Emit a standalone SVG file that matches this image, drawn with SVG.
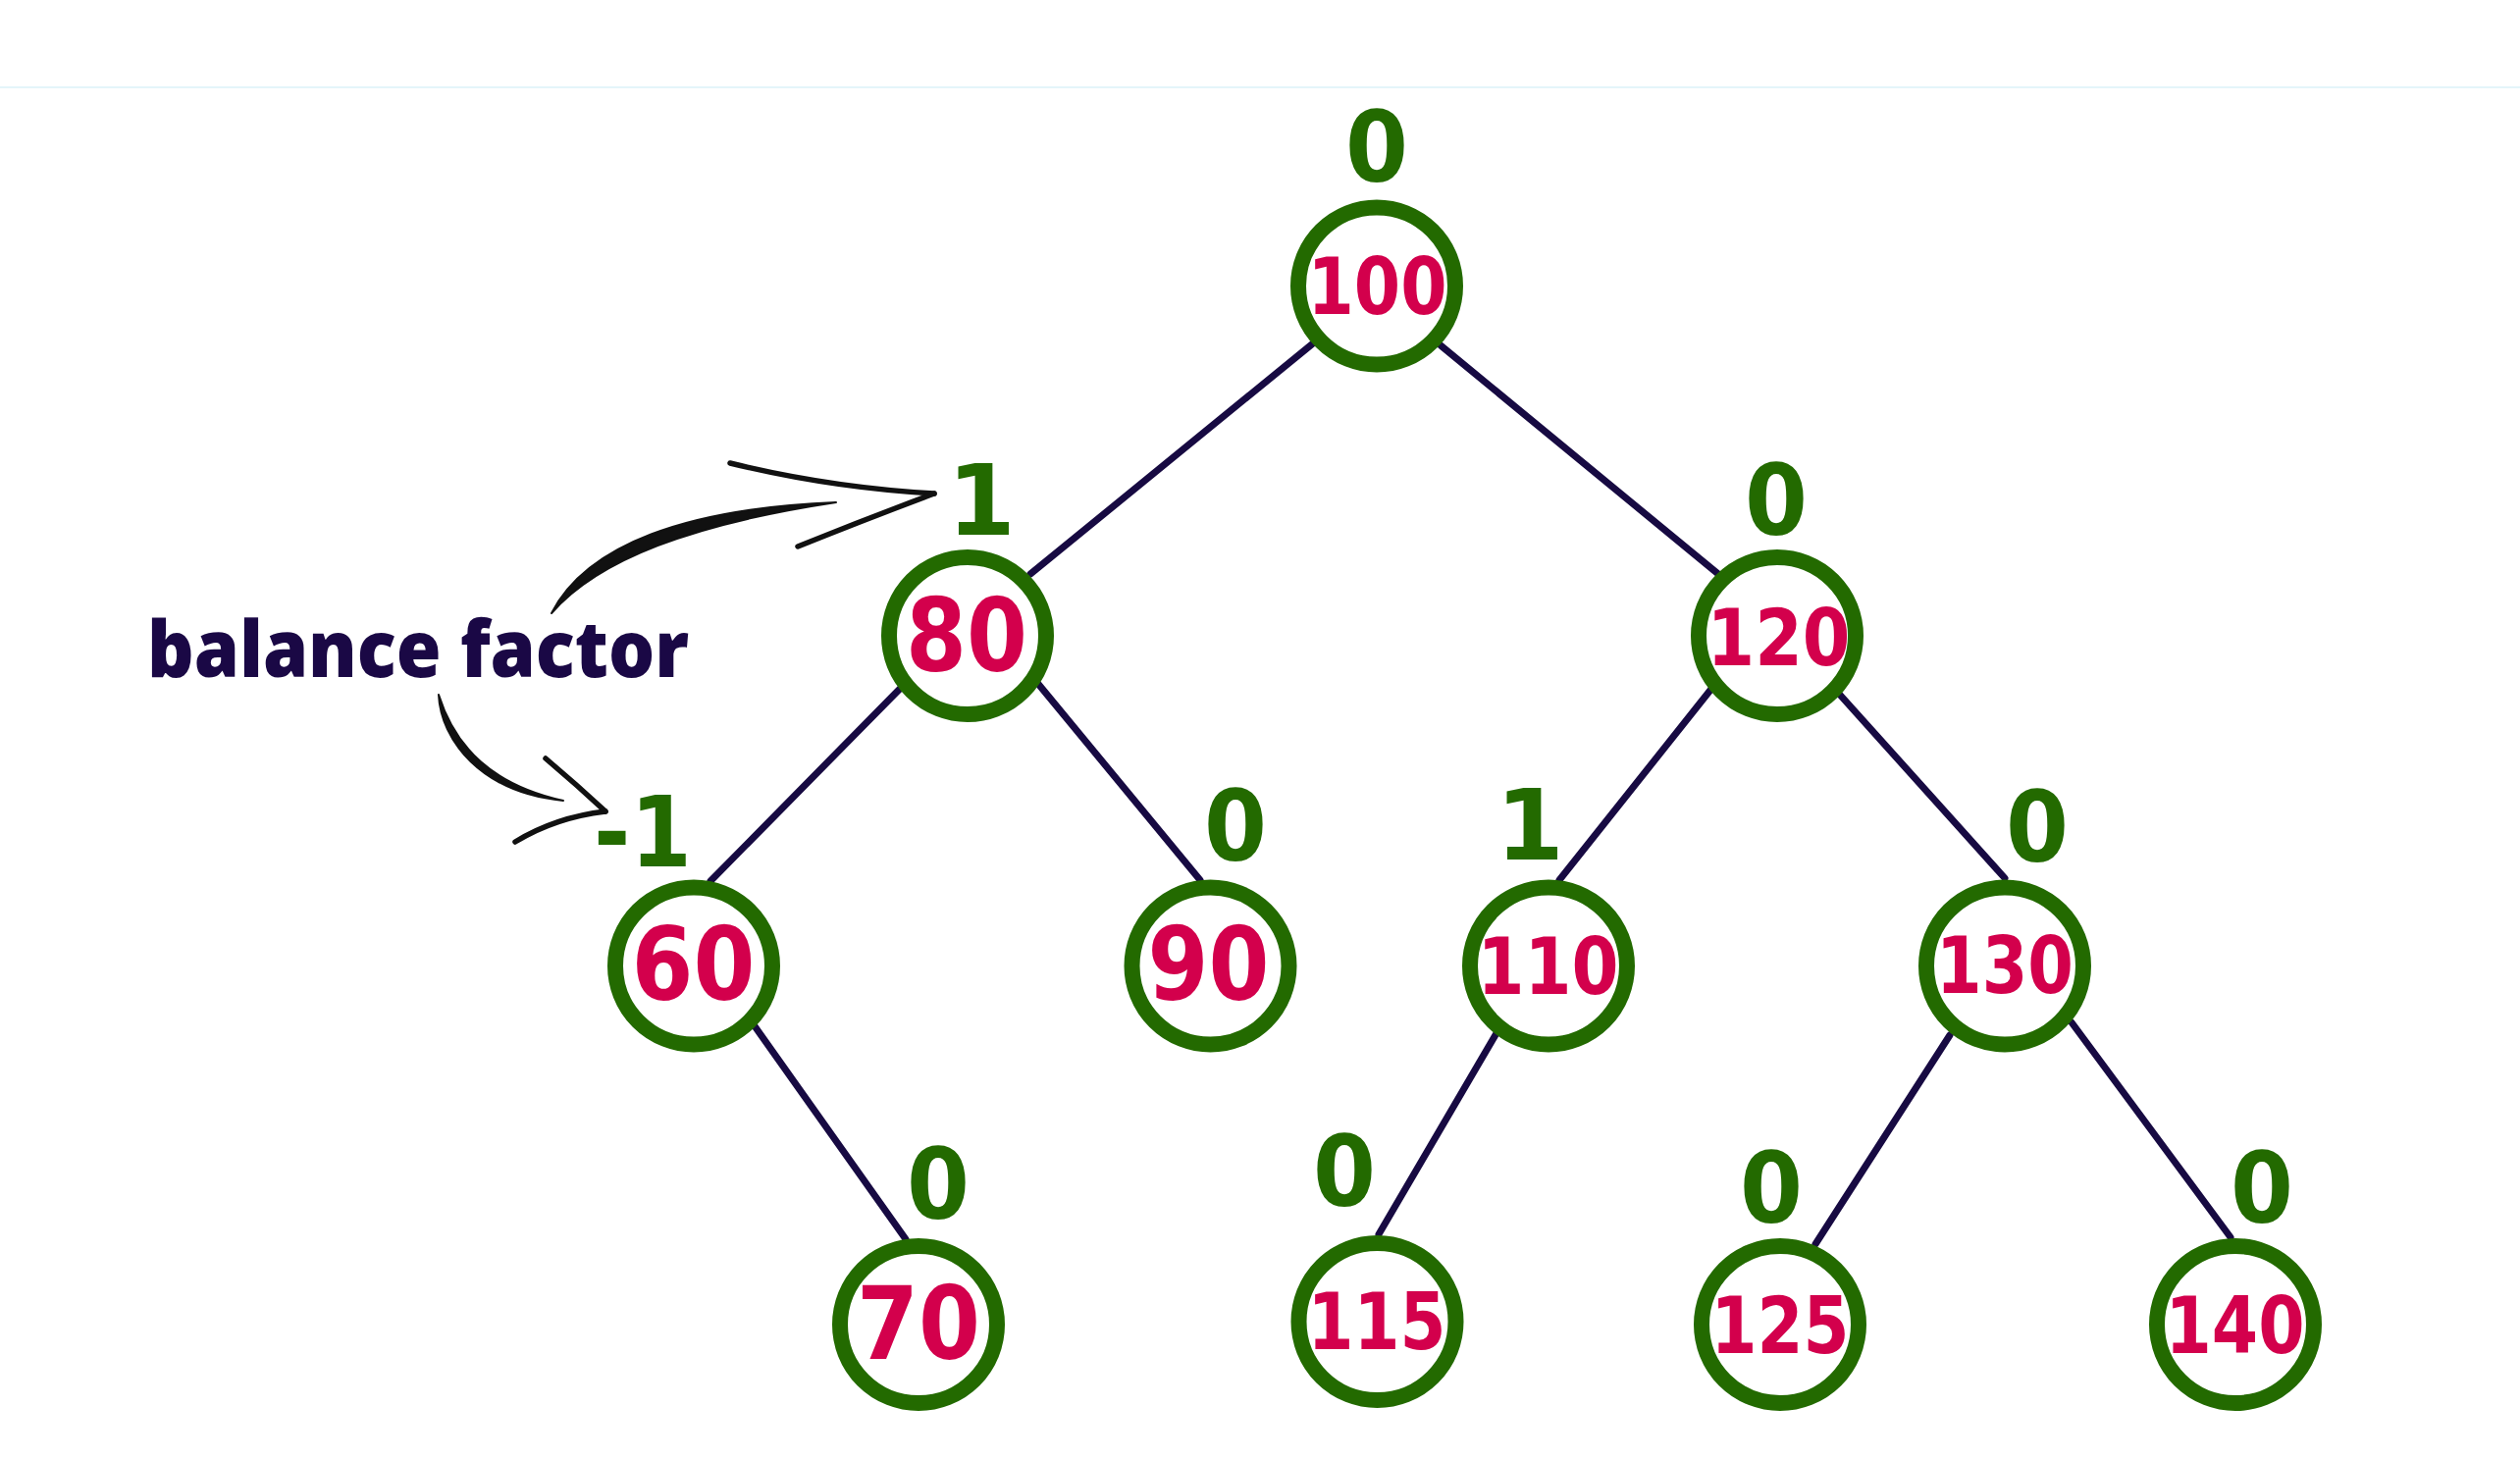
<svg xmlns="http://www.w3.org/2000/svg" width="2568" height="1487" viewBox="0 0 2568 1487">
<style>
.edge{stroke:#170a42;stroke-width:7;stroke-linecap:round;fill:none}
.node{fill:#ffffff;stroke:#236a00;stroke-width:16}
.v3{font-family:"DejaVu Sans",sans-serif;font-weight:bold;font-size:80px;fill:#d3004c;text-anchor:middle}
.v2{font-family:"DejaVu Sans",sans-serif;font-weight:bold;font-size:104px;fill:#d3004c;text-anchor:middle}
.bf{font-family:"DejaVu Sans",sans-serif;font-weight:bold;font-size:100px;fill:#236a00;text-anchor:middle}
.lbl{font-family:"Open Sans","DejaVu Sans",sans-serif;font-weight:800;font-size:80px;fill:#1a0845}
.brush{fill:#111111;stroke:#111111;stroke-width:2;stroke-linejoin:round}
.barb{fill:none;stroke:#111111;stroke-width:5.5;stroke-linecap:round}
</style>
<rect width="2568" height="1487" fill="#ffffff"/>
<line x1="0" y1="89" x2="2568" y2="89" stroke="#e4f5fa" stroke-width="2"/>
<g id="connectors">
<line class="edge" x1="1338" y1="350" x2="1050" y2="585"/>
<line class="edge" x1="1468" y1="352" x2="1751" y2="585"/>
<line class="edge" x1="919" y1="700" x2="724" y2="898"/>
<line class="edge" x1="1058" y1="697" x2="1223" y2="897"/>
<line class="edge" x1="1744" y1="702" x2="1589" y2="897"/>
<line class="edge" x1="1874" y1="707" x2="2043" y2="895"/>
<line class="edge" x1="767" y1="1043" x2="923" y2="1263"/>
<line class="edge" x1="1525" y1="1053" x2="1405" y2="1258"/>
<line class="edge" x1="1987" y1="1055" x2="1850" y2="1268"/>
<line class="edge" x1="2111" y1="1042" x2="2273" y2="1261"/>
</g>
<g id="node-100"><circle class="node" cx="1403" cy="291.5" r="80"/><text class="v3" x="1403.5" y="320" textLength="142" lengthAdjust="spacingAndGlyphs">100</text><text class="bf" x="1403" y="185" textLength="64" lengthAdjust="spacingAndGlyphs">0</text></g>
<g id="node-80"><circle class="node" cx="986" cy="648" r="80"/><text class="v2" x="985" y="684" textLength="124" lengthAdjust="spacingAndGlyphs">80</text><text class="bf" x="1000" y="545">1</text></g>
<g id="node-120"><circle class="node" cx="1811" cy="648" r="80"/><text class="v3" x="1812.5" y="678" textLength="146" lengthAdjust="spacingAndGlyphs">120</text><text class="bf" x="1810" y="545" textLength="64" lengthAdjust="spacingAndGlyphs">0</text></g>
<g id="node-60"><circle class="node" cx="707" cy="984.5" r="80"/><text class="v2" x="706.5" y="1019" textLength="126" lengthAdjust="spacingAndGlyphs">60</text><text class="bf" x="655" y="883" textLength="100" lengthAdjust="spacingAndGlyphs">-1</text></g>
<g id="node-90"><circle class="node" cx="1233.5" cy="984.5" r="80"/><text class="v2" x="1231.5" y="1019" textLength="124" lengthAdjust="spacingAndGlyphs">90</text><text class="bf" x="1259" y="877" textLength="64" lengthAdjust="spacingAndGlyphs">0</text></g>
<g id="node-110"><circle class="node" cx="1578" cy="984.5" r="80"/><text class="v3" x="1577.5" y="1013" textLength="144" lengthAdjust="spacingAndGlyphs">110</text><text class="bf" x="1559" y="876">1</text></g>
<g id="node-130"><circle class="node" cx="2043" cy="984.5" r="80"/><text class="v3" x="2043" y="1012" textLength="140" lengthAdjust="spacingAndGlyphs">130</text><text class="bf" x="2076" y="878" textLength="64" lengthAdjust="spacingAndGlyphs">0</text></g>
<g id="node-70"><circle class="node" cx="936" cy="1350" r="80"/><text class="v2" x="936" y="1385" textLength="126" lengthAdjust="spacingAndGlyphs">70</text><text class="bf" x="956" y="1242" textLength="64" lengthAdjust="spacingAndGlyphs">0</text></g>
<g id="node-115"><circle class="node" cx="1403.5" cy="1347" r="80"/><text class="v3" x="1403" y="1375" textLength="141" lengthAdjust="spacingAndGlyphs">115</text><text class="bf" x="1370" y="1229" textLength="64" lengthAdjust="spacingAndGlyphs">0</text></g>
<g id="node-125"><circle class="node" cx="1814" cy="1350" r="80"/><text class="v3" x="1814" y="1379" textLength="141" lengthAdjust="spacingAndGlyphs">125</text><text class="bf" x="1805" y="1246" textLength="64" lengthAdjust="spacingAndGlyphs">0</text></g>
<g id="node-140"><circle class="node" cx="2278" cy="1350" r="80"/><text class="v3" x="2277.5" y="1379" textLength="142" lengthAdjust="spacingAndGlyphs">140</text><text class="bf" x="2305" y="1246" textLength="64" lengthAdjust="spacingAndGlyphs">0</text></g>
<g id="annotation">
<text class="lbl" x="150" y="690" textLength="552" lengthAdjust="spacingAndGlyphs">balance factor</text>
<path class="brush" d="M562,625 C598,555 700,518 852,512 C706,534 610,570 562,625 Z"/>
<path class="barb" d="M744,472 Q846,497 952,503"/>
<path class="barb" d="M813,557 Q880,530 952,503"/>
<path class="brush" d="M447,708 C449,754 490,808 574,816 C502,800 464,762 447,708 Z"/>
<path class="barb" d="M556,773 Q588,800 617,827"/>
<path class="barb" d="M525,858 Q566,833 617,827"/>
</g>
</svg>
